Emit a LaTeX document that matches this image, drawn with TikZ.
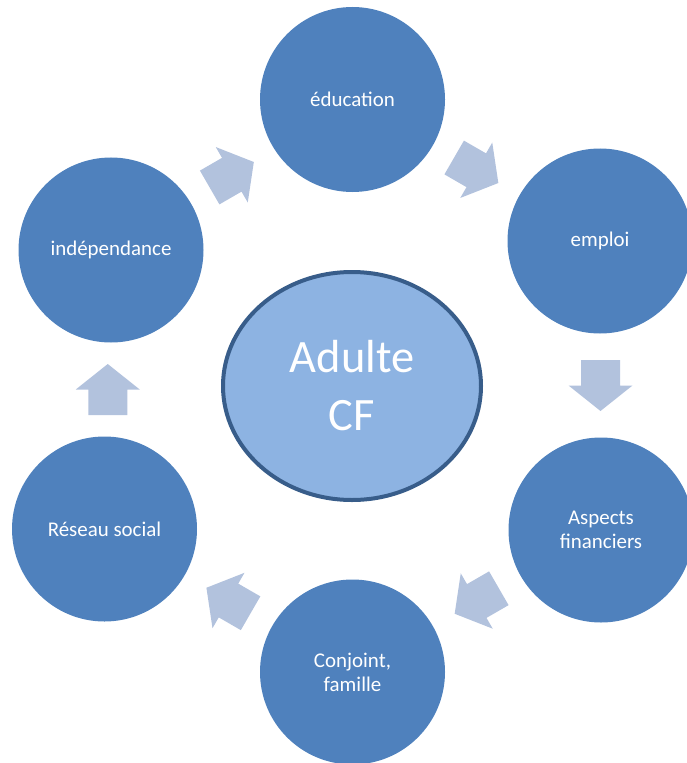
\documentclass[tikz,border=0pt]{standalone}
\usepackage{fontspec}
\setmainfont{Carlito}
\usetikzlibrary{calc,shapes.geometric}

\definecolor{kreisblau}{HTML}{4F81BD}
\definecolor{pfeilblau}{HTML}{B2C2DD}
\definecolor{mitteblau}{HTML}{8DB3E2}
\definecolor{randblau}{HTML}{385D8A}

\tikzset{
	etape/.style={circle, fill=kreisblau, text=white, inner sep=0pt, outer sep=0pt,
		minimum size=138.75pt, align=center, font=\fontsize{15.7}{18}\selectfont},
	centre/.style={ellipse, fill=mitteblau, draw=randblau, line width=3pt, text=white,
		inner sep=0pt, minimum width=193.5pt, minimum height=171pt, align=center,
		font=\fontsize{34.8}{43.5}\selectfont},
	bloc/.style={fill=pfeilblau}
}

\newcommand{\cyclefleche}[3]{%
	\path ($(#1)!.5!(#2)$) coordinate (m#1);
	\fill[bloc, shift={(m#1)}, rotate=#3] (-25.5,-19.5) -- (0,-19.5) -- (0,-32) -- (25.5,0) -- (0,32) -- (0,19.5) -- (-25.5,19.5) -- cycle;
}

\begin{document}
\begin{tikzpicture}[x=0.75pt, y=-0.75pt]
	
	\useasboundingbox (0,0) rectangle (686,763);
	
	\node[centre] (cf) at (352,386) {Adulte\\CF};
	
	\node[etape] (edu) at (352.5,99.5) {éducation};
	\node[etape] (emp) at (600,241) {emploi};
	\node[etape] (asp) at (601,530) {Aspects\\financiers};
	\node[etape] (con) at (352.5,672) {Conjoint,\\famille};
	\node[etape] (res) at (104.5,529) {Réseau social};
	\node[etape] (ind) at (111,250) {indépendance};
	
	\cyclefleche{edu}{emp}{-30}
	\cyclefleche{emp}{asp}{-90}
	\cyclefleche{asp}{con}{-150}
	\cyclefleche{con}{res}{150}
	\cyclefleche{res}{ind}{90}
	\cyclefleche{ind}{edu}{30}
	
\end{tikzpicture}
\end{document}
